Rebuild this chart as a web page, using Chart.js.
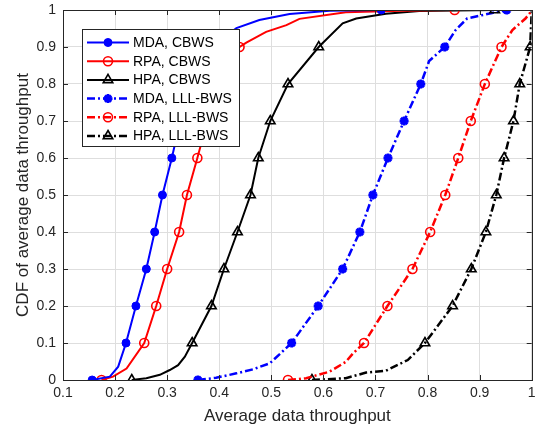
<!DOCTYPE html>
<html>
<head>
<meta charset="utf-8">
<script src="https://cdn.jsdelivr.net/npm/chart.js@4.4.1/dist/chart.umd.min.js"></script>
<style>
  body { margin: 0; background: #fff; }
  #wrap { width: 539px; height: 429px; }
</style>
</head>
<body>
<div id="wrap"><canvas id="cdfChart" width="539" height="429"></canvas></div>
<script>
const xTickValues = [0.1, 0.2, 0.3, 0.4, 0.5, 0.6, 0.7, 0.8, 0.9, 1];
const yTickValues = [0, 0.1, 0.2, 0.3, 0.4, 0.5, 0.6, 0.7, 0.8, 0.9, 1];

const seriesLabels = [
  "MDA, CBWS",
  "RPA, CBWS",
  "HPA, CBWS",
  "MDA, LLL-BWS",
  "RPA, LLL-BWS",
  "HPA, LLL-BWS",
];

// throughput (x) and CDF (y)
const mdaCbwsX = [0.156, 0.19, 0.206, 0.221, 0.24, 0.26, 0.276, 0.291, 0.309, 0.325, 0.345, 0.385, 0.433, 0.477, 0.535, 0.612, 0.711];
const mdaCbwsY = [0, 0.009, 0.036, 0.1, 0.2, 0.3, 0.4, 0.5, 0.6, 0.7, 0.8, 0.9, 0.951, 0.973, 0.989, 0.998, 1];

const rpaCbwsX = [0.174, 0.196, 0.222, 0.256, 0.279, 0.3, 0.323, 0.338, 0.358, 0.377, 0.403, 0.439, 0.452, 0.49, 0.529, 0.554, 0.643, 0.75, 0.852];
const rpaCbwsY = [0, 0.009, 0.031, 0.1, 0.2, 0.3, 0.4, 0.5, 0.6, 0.7, 0.8, 0.9, 0.912, 0.941, 0.959, 0.976, 0.994, 0.998, 1];

const hpaCbwsX = [0.232, 0.26, 0.286, 0.305, 0.321, 0.334, 0.348, 0.385, 0.409, 0.435, 0.46, 0.475, 0.498, 0.532, 0.591, 0.637, 0.663, 0.72, 0.784, 0.929];
const hpaCbwsY = [0, 0.005, 0.014, 0.027, 0.04, 0.063, 0.1, 0.2, 0.3, 0.4, 0.5, 0.6, 0.7, 0.8, 0.9, 0.964, 0.977, 0.99, 0.997, 1];

const mdaLllX = [0.359, 0.394, 0.433, 0.465, 0.497, 0.539, 0.59, 0.637, 0.67, 0.695, 0.724, 0.755, 0.787, 0.803, 0.833, 0.854, 0.876, 0.924, 0.952];
const mdaLllY = [0, 0.006, 0.018, 0.029, 0.045, 0.1, 0.2, 0.3, 0.4, 0.5, 0.6, 0.7, 0.8, 0.862, 0.9, 0.946, 0.977, 0.992, 1];

const rpaLllX = [0.532, 0.567, 0.611, 0.643, 0.657, 0.678, 0.723, 0.771, 0.805, 0.834, 0.859, 0.883, 0.91, 0.942, 0.963, 0.988, 1];
const rpaLllY = [0, 0.005, 0.022, 0.049, 0.072, 0.1, 0.2, 0.3, 0.4, 0.5, 0.6, 0.7, 0.8, 0.9, 0.946, 0.977, 0.998];

const hpaLllX = [0.578, 0.643, 0.682, 0.72, 0.762, 0.795, 0.848, 0.884, 0.912, 0.932, 0.947, 0.965, 0.977, 0.997, 1];
const hpaLllY = [0, 0.005, 0.02, 0.025, 0.054, 0.1, 0.2, 0.3, 0.4, 0.5, 0.6, 0.7, 0.8, 0.9, 0.998];

const toPoints = (xs, ys) => xs.map((x, i) => ({ x: x, y: ys[i] }));
// markers sit on the 0.1 steps of the CDF
const onStep = (y) => Math.abs(y * 10 - Math.round(y * 10)) < 1e-6;

const dashDot = [8, 3, 2, 3];

function makeSeries(label, xs, ys, color, marker, dashed) {
  return {
    label: label,
    data: toPoints(xs, ys),
    showLine: true,
    borderColor: color,
    borderWidth: dashed ? 2.5 : 2,
    borderDash: dashed ? dashDot : [],
    pointStyle: marker.style,
    pointBackgroundColor: marker.filled ? color : "rgba(0,0,0,0)",
    pointBorderColor: color,
    pointBorderWidth: marker.width,
    pointRadius: (c) => (c.raw && onStep(c.raw.y) ? marker.size : 0),
    pointHoverRadius: 0,
    markerSize: marker.size,
  };
}

const dotMark = { style: "circle", size: 4, filled: true, width: 1 };
const starMark = { style: "star", size: 4.5, filled: true, width: 2.8 };
const ringMark = { style: "circle", size: 4.5, filled: false, width: 1.6 };
const triMark = { style: "triangle", size: 5.5, filled: false, width: 1.6 };

const datasets = [
  makeSeries(seriesLabels[0], mdaCbwsX, mdaCbwsY, "#0000ff", dotMark, false),
  makeSeries(seriesLabels[1], rpaCbwsX, rpaCbwsY, "#ff0000", ringMark, false),
  makeSeries(seriesLabels[2], hpaCbwsX, hpaCbwsY, "#000000", triMark, false),
  makeSeries(seriesLabels[3], mdaLllX, mdaLllY, "#0000ff", starMark, true),
  makeSeries(seriesLabels[4], rpaLllX, rpaLllY, "#ff0000", ringMark, true),
  makeSeries(seriesLabels[5], hpaLllX, hpaLllY, "#000000", triMark, true),
];

function drawMarker(ctx, ds, x, y) {
  ctx.save();
  ctx.setLineDash([]);
  ctx.strokeStyle = ds.pointBorderColor;
  ctx.fillStyle = ds.pointBackgroundColor;
  ctx.lineWidth = ds.pointBorderWidth;
  Chart.helpers.drawPoint(ctx, {
    pointStyle: ds.pointStyle,
    radius: ds.markerSize,
    rotation: 0,
    borderWidth: ds.pointBorderWidth,
  }, x, y);
  ctx.restore();
}

// MATLAB style box, inward ticks and the legend inside the axes
const boxAndLegend = {
  id: "boxAndLegend",
  afterDatasetsDraw(chart) {
    const { ctx, chartArea: a, scales } = chart;
    ctx.save();
    ctx.strokeStyle = "#262626";
    ctx.lineWidth = 1;
    ctx.setLineDash([]);
    ctx.beginPath();
    xTickValues.forEach((v) => {
      const px = Math.round(scales.x.getPixelForValue(v)) + 0.5;
      ctx.moveTo(px, a.bottom); ctx.lineTo(px, a.bottom - 5);
      ctx.moveTo(px, a.top); ctx.lineTo(px, a.top + 5);
    });
    yTickValues.forEach((v) => {
      const py = Math.round(scales.y.getPixelForValue(v)) + 0.5;
      ctx.moveTo(a.left, py); ctx.lineTo(a.left + 5, py);
      ctx.moveTo(a.right, py); ctx.lineTo(a.right - 5, py);
    });
    ctx.stroke();
    ctx.strokeRect(Math.round(a.left) + 0.5, Math.round(a.top) + 0.5,
      Math.round(a.right - a.left), Math.round(a.bottom - a.top));

    // legend
    const bx = 82.5, by = 29.5, bw = 157, bh = 117;
    ctx.fillStyle = "#ffffff";
    ctx.fillRect(bx, by, bw, bh);
    ctx.strokeRect(bx, by, bw, bh);
    ctx.font = "14px 'Liberation Sans', Arial, sans-serif";
    ctx.textBaseline = "middle";
    chart.data.datasets.forEach((ds, i) => {
      const ry = 42.5 + i * 18.7;
      ctx.save();
      ctx.strokeStyle = ds.borderColor;
      ctx.lineWidth = ds.borderWidth;
      ctx.setLineDash(ds.borderDash);
      ctx.beginPath();
      ctx.moveTo(87, ry);
      ctx.lineTo(129, ry);
      ctx.stroke();
      ctx.restore();
      drawMarker(ctx, ds, 108, ry);
      ctx.fillStyle = "#000000";
      ctx.fillText(ds.label, 133, ry + 0.5);
    });
    ctx.restore();
  },
};

const tickFont = { family: "'Liberation Sans', Arial, sans-serif", size: 14 };
const titleFont = { family: "'Liberation Sans', Arial, sans-serif", size: 17 };

new Chart(document.getElementById("cdfChart"), {
  type: "scatter",
  data: { datasets: datasets },
  options: {
    responsive: false,
    animation: false,
    layout: { padding: { top: 10, right: 6, left: 0, bottom: 0 } },
    plugins: { legend: { display: false }, tooltip: { enabled: false } },
    scales: {
      x: {
        type: "linear",
        min: 0.1,
        max: 1,
        afterBuildTicks: (s) => { s.ticks = xTickValues.map((v) => ({ value: v })); },
        afterFit: (s) => { s.height = 49; s.paddingLeft = 0; s.paddingRight = 0; },
        grid: { color: "#dedede", drawTicks: false },
        border: { display: false },
        ticks: { color: "#262626", font: tickFont, padding: 5, maxRotation: 0, callback: (v) => String(v) },
        title: { display: true, text: "Average data throughput", color: "#262626", font: titleFont, padding: { top: 0, bottom: 2 } },
      },
      y: {
        type: "linear",
        min: 0,
        max: 1,
        afterBuildTicks: (s) => { s.ticks = yTickValues.map((v) => ({ value: v })); },
        afterFit: (s) => { s.width = 63; s.paddingTop = 0; s.paddingBottom = 0; },
        grid: { color: "#dedede", drawTicks: false },
        border: { display: false },
        ticks: { color: "#262626", font: tickFont, padding: 7, callback: (v) => String(v) },
        title: { display: true, text: "CDF of average data throughput", color: "#262626", font: titleFont, padding: { top: 13, bottom: 0 } },
      },
    },
  },
  plugins: [boxAndLegend],
});
</script>
</body>
</html>
